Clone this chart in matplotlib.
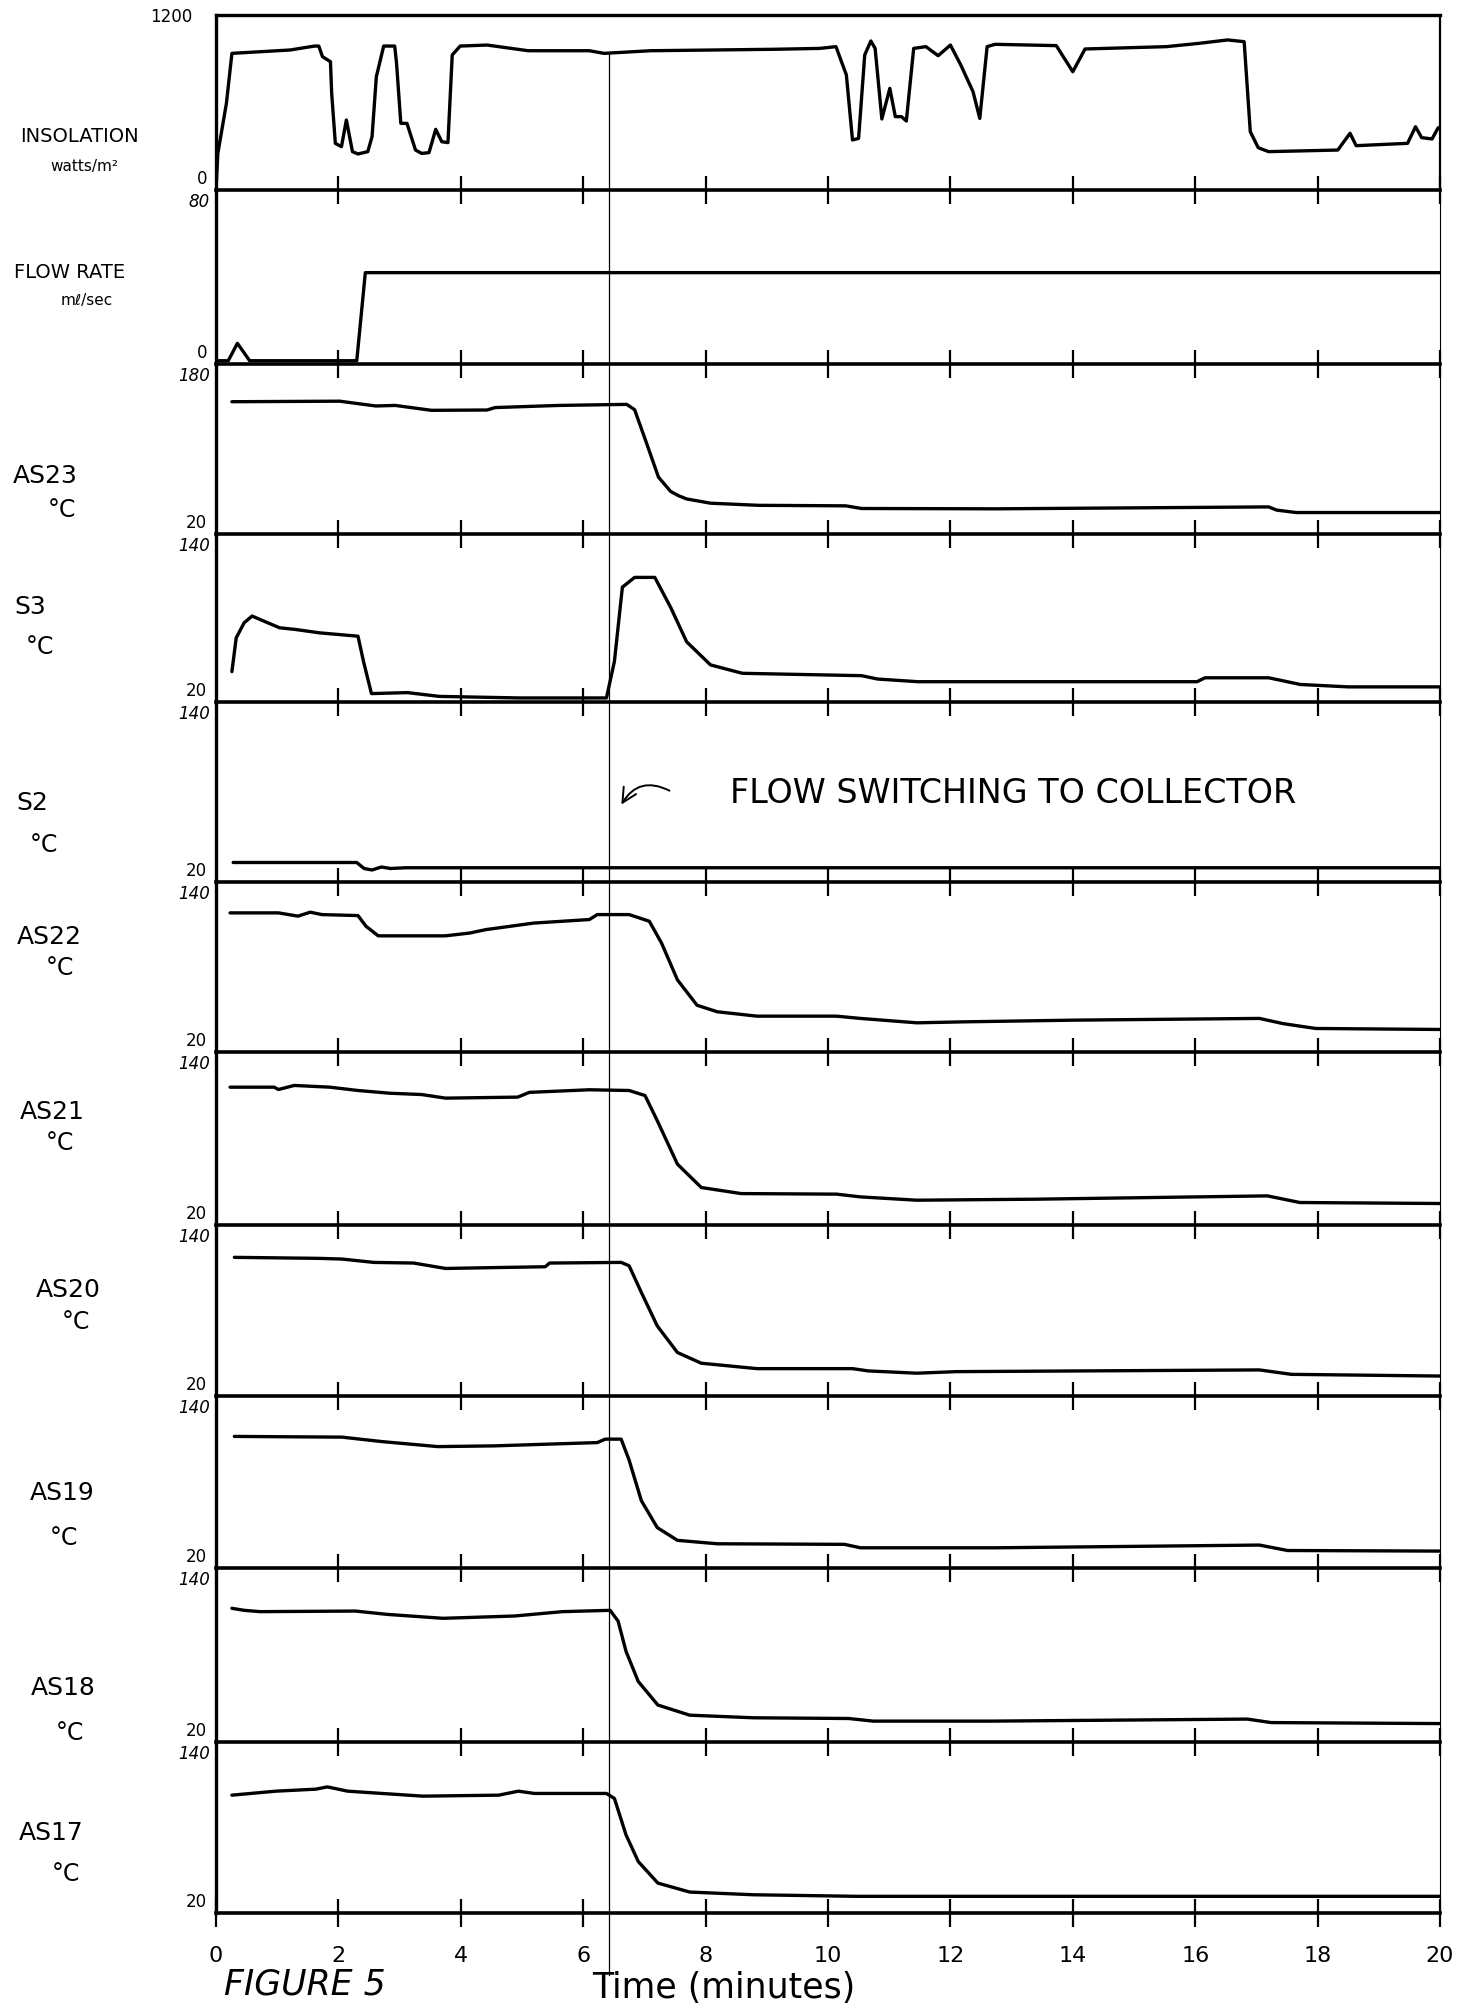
import matplotlib
matplotlib.use("Agg")
import matplotlib.pyplot as plt

# ---------------- data ----------------
insol_t = [0, 0.03, 0.17, 0.26, 1.21, 1.61, 1.68, 1.74, 1.87, 1.89, 1.95, 2.05, 2.13, 2.23, 2.32,
           2.48, 2.55, 2.62, 2.74, 2.92, 2.95, 3.02, 3.12, 3.26, 3.36, 3.48, 3.59, 3.69, 3.79, 3.86,
           3.99, 4.43, 5.1, 6.1, 6.34, 7.1, 9.13, 9.87, 10.13, 10.3, 10.4, 10.5, 10.6, 10.7, 10.77,
           10.88, 11.01, 11.1, 11.2, 11.28, 11.4, 11.6, 11.8, 12.0, 12.17, 12.37, 12.48, 12.6, 12.73,
           13.73, 14.0, 14.2, 15.53, 16.07, 16.53, 16.8, 16.9, 17.03, 17.2, 18.33, 18.53, 18.63,
           19.47, 19.6, 19.7, 19.87, 19.97]
insol_v = [0, 251, 594, 937, 960, 987, 987, 914, 880, 663, 320, 297, 480, 263, 247,
           263, 366, 777, 987, 987, 869, 457, 457, 274, 251, 256, 416, 331, 325, 926,
           987, 994, 955, 955, 937, 955, 965, 971, 983, 789, 343, 354, 926, 1022, 971,
           487, 697, 503, 503, 473, 971, 983, 921, 994, 857, 674, 491, 983, 999,
           990, 811, 967, 983, 1006, 1029, 1017, 400, 290, 263, 274, 389, 304,
           320, 434, 359, 350, 427]

flow_t = [0.0, 0.2, 0.35, 0.55, 2.3, 2.44, 20.0]
flow_v = [1.5, 1.5, 9.5, 1.5, 1.5, 42, 42]

as23_t = [0.26, 2.02, 2.61, 2.93, 3.52, 4.43, 4.56, 5.6, 6.71, 6.84, 7.04, 7.23, 7.43, 7.56,
          7.69, 8.08, 8.86, 10.29, 10.55, 12.77, 17.2, 17.33, 17.65, 20.0]
as23_v = [144.5, 145, 140.5, 141, 136.4, 136.7, 139, 141, 142, 137, 104.7, 73.5, 60, 56,
          53, 49, 47, 46.5, 44, 43.7, 45.5, 42.5, 40.2, 40.2]

s3_t = [0.26, 0.33, 0.46, 0.59, 0.78, 1.04, 1.30, 1.69, 2.32, 2.41, 2.54, 3.13, 3.65, 4.95,
        6.38, 6.51, 6.64, 6.84, 7.17, 7.43, 7.69, 8.08, 8.6, 10.55, 10.81, 11.47, 16.03, 16.16,
        17.2, 17.72, 18.5, 20.0]
s3_v = [41.7, 65.8, 76.6, 81.4, 77.8, 73, 71.8, 69.4, 67, 49, 26, 26.7, 24, 22.9,
        22.9, 49, 102, 109, 109, 87.5, 63, 46.5, 40.5, 38.8, 36.4, 34.5, 34.5, 37.3,
        37.3, 32.5, 30.8, 30.8]

s2_t = [0.28, 2.3, 2.42, 2.55, 2.7, 2.85, 3.1, 20.0]
s2_v = [33, 33, 29, 28, 30, 29, 29.5, 29.5]

as22_t = [0.23, 1.02, 1.34, 1.54, 1.73, 2.32, 2.45, 2.65, 3.75, 4.15, 4.41, 5.19, 6.10, 6.23,
          6.75, 7.08, 7.28, 7.54, 7.86, 8.19, 8.84, 10.14, 10.53, 11.45, 12.23, 14.05, 17.05,
          17.44, 17.97, 20.0]
as22_v = [118.2, 118.2, 115.9, 118.7, 117, 116.3, 108.8, 102, 102, 104, 106.4, 111, 113.5, 117,
          117, 112.3, 96.9, 70.9, 53, 48.4, 45.3, 45.3, 43.7, 40.6, 41.3, 42.5, 43.7,
          40, 36.6, 35.9]

as21_t = [0.23, 0.95, 1.02, 1.28, 1.86, 2.32, 2.84, 3.36, 3.75, 4.93, 5.12, 6.10, 6.75, 7.01,
          7.21, 7.54, 7.93, 8.58, 10.14, 10.53, 11.45, 13.4, 17.18, 17.71, 20.0]
as21_v = [115.6, 115.6, 114, 116.8, 115.6, 113.3, 111.4, 110.5, 108, 108.7, 112, 113.8, 113.3, 109.8,
          92.4, 62.2, 46, 41.8, 41.4, 39.5, 37.2, 37.9, 40.2, 35.6, 34.9]

as20_t = [0.30, 1.67, 2.06, 2.58, 3.23, 3.75, 4.67, 5.38, 5.45, 6.62, 6.75, 6.95, 7.21, 7.54,
          7.93, 8.84, 10.4, 10.66, 11.45, 12.1, 17.05, 17.57, 20.0]
as20_v = [117.3, 116.6, 116.1, 113.75, 113.3, 109.5, 110.2, 110.7, 113.3, 113.75, 111.4, 92.7, 69.2, 50.5,
          43, 39.2, 39.2, 37.6, 36, 37.1, 38.3, 35.2, 34]

as19_t = [0.30, 2.06, 2.71, 3.62, 4.54, 6.23, 6.36, 6.62, 6.75, 6.95, 7.21, 7.54, 8.19, 10.27,
          10.53, 12.75, 17.05, 17.51, 20.0]
as19_v = [111.8, 111.3, 108.2, 104.7, 105.2, 107.5, 109.9, 109.9, 95.3, 67, 48.2, 39.3, 36.9, 36.5,
          34.1, 34.1, 36, 32.2, 31.8]

as18_t = [0.26, 0.46, 0.72, 2.28, 2.80, 3.71, 4.88, 5.66, 6.44, 6.57, 6.70, 6.90, 7.22, 7.74,
          8.78, 10.34, 10.74, 12.69, 16.85, 17.24, 20.0]
as18_v = [112.2, 110.8, 109.9, 110.3, 108, 105.3, 106.9, 109.9, 110.8, 103.4, 82.5, 61.7, 45.5, 38.5,
          36.7, 36.2, 34.4, 34.4, 35.8, 33.4, 32.7]

as17_t = [0.26, 0.98, 1.63, 1.82, 2.15, 3.38, 4.62, 4.94, 5.2, 6.38, 6.51, 6.70, 6.90, 7.22,
          7.74, 8.78, 10.47, 20.0]
as17_v = [102.7, 105.5, 106.9, 108.5, 105.5, 102, 102.7, 105.5, 103.9, 103.9, 100.4, 74.8, 56.1, 41,
          34.7, 32.8, 31.7, 31.7]

panel_names = ["INSOLATION", "FLOW RATE", "AS23", "S3", "S2", "AS22", "AS21", "AS20", "AS19", "AS18", "AS17"]
panel_units = ["watts/m\u00b2", "m\u2113/sec", "\u00b0C", "\u00b0C", "\u00b0C", "\u00b0C", "\u00b0C",
               "\u00b0C", "\u00b0C", "\u00b0C", "\u00b0C"]
y_top_labels = ["1200", "80", "180", "140", "140", "140", "140", "140", "140", "140", "140"]
y_bot_labels = ["0", "0", "20", "20", "20", "20", "20", "20", "20", "20", "20"]
y_limits = [(0, 1200), (0, 80), (20, 180), (20, 140), (20, 140), (20, 140), (20, 140),
            (20, 140), (20, 140), (20, 140), (20, 140)]
series = [(insol_t, insol_v), (flow_t, flow_v), (as23_t, as23_v), (s3_t, s3_v), (s2_t, s2_v),
          (as22_t, as22_v), (as21_t, as21_v), (as20_t, as20_v), (as19_t, as19_v),
          (as18_t, as18_v), (as17_t, as17_v)]
x_ticks = list(range(0, 21, 2))
x_tick_labels = [str(v) for v in x_ticks]
switch_time = 6.42
annotation = "FLOW SWITCHING TO COLLECTOR"

# ---------------- layout ----------------
W, H = 1469, 2010
fig = plt.figure(figsize=(W / 100, H / 100), dpi=100)
fig.patch.set_facecolor("white")

tops = [15, 190, 364, 534, 702, 882, 1052, 1225, 1396, 1568, 1742]
bots = [190, 364, 534, 702, 882, 1052, 1225, 1396, 1568, 1742, 1913]
left_px, right_px = 216, 1440
span = right_px - left_px

name_pos = [(79, 136), (70, 272), (45, 476), (30, 607), (32, 803), (49, 937), (52, 1112),
            (68, 1290), (62, 1493), (63, 1688), (51, 1833)]
unit_pos = [(84, 166), (87, 300), (62, 510), (40, 647), (44, 845), (60, 968), (60, 1143),
            (76, 1322), (64, 1538), (70, 1733), (66, 1874)]

axes = []
for i in range(11):
    t, b = tops[i], bots[i]
    h = b - t
    ax = fig.add_axes([left_px / W, 1 - b / H, span / W, h / H])
    axes.append(ax)
    xs, ys = series[i]
    ax.plot(xs, ys, color="black", lw=2.4, solid_joinstyle="round", solid_capstyle="round")
    ax.set_xlim(0, 20)
    ax.set_ylim(*y_limits[i])
    ax.set_facecolor("none")
    ax.set_yticks([])
    for s in ax.spines.values():
        s.set_color("black")
    ax.spines["left"].set_linewidth(2.4)
    ax.spines["bottom"].set_linewidth(2.6)
    if i == 0:
        ax.spines["top"].set_linewidth(2.4)
        ax.spines["right"].set_linewidth(1.6)
    else:
        ax.spines["top"].set_visible(False)
        ax.spines["right"].set_linewidth(0.8)
    if i < 10:
        ax.set_xticks(x_ticks[1:])
        ax.set_xticklabels([])
    else:
        ax.set_xticks(x_ticks)
        ax.set_xticklabels(x_tick_labels, fontsize=16)
    ax.tick_params(axis="x", direction="inout", length=20, width=1.6, pad=14)

    # y range labels
    if i == 0:
        ax.text(-24 / span, 1.0 - 2 / h, y_top_labels[i], transform=ax.transAxes,
                ha="right", va="center", fontsize=12)
    else:
        ax.text(-6 / span, 1.0 - 3 / h, y_top_labels[i], transform=ax.transAxes,
                ha="right", va="top", fontsize=12, style="italic")
    ax.text(-9 / span, 0.0 + 2 / h, y_bot_labels[i], transform=ax.transAxes,
            ha="right", va="bottom", fontsize=12)

    # panel labels
    nx, ny = name_pos[i]
    ux, uy = unit_pos[i]
    nsize = 14 if i < 2 else 18
    usize = 11 if i < 2 else 17
    fig.text(nx / W, 1 - ny / H, panel_names[i], ha="center", va="center", fontsize=nsize)
    fig.text(ux / W, 1 - uy / H, panel_units[i], ha="center", va="center", fontsize=usize)

    # vertical marker line at flow switch
    if i == 0:
        ax.axvline(switch_time, ymin=0, ymax=(b - 53) / h, color="black", lw=0.9)
    elif i == 10:
        ax.axvline(switch_time, ymin=-(1975 - b) / h, ymax=1, color="black", lw=0.9, clip_on=False)
    else:
        ax.axvline(switch_time, color="black", lw=0.9)

# annotation in S2 panel
ax_s2 = axes[4]
ax_s2.annotate("", xy=(6.6, 70), xytext=(7.45, 80),
               arrowprops=dict(arrowstyle="->", color="black", lw=1.4,
                               connectionstyle="arc3,rad=0.5", mutation_scale=26))
ax_s2.text(8.4, 79, annotation, ha="left", va="center", fontsize=24, color="black")

fig.text(592 / W, 1 - 1988 / H, "Time (minutes)", ha="left", va="center", fontsize=25)
fig.text(224 / W, 1 - 1984 / H, "FIGURE 5", ha="left", va="center", fontsize=25, style="italic")

fig.savefig("out.png", dpi=100, facecolor="white")
